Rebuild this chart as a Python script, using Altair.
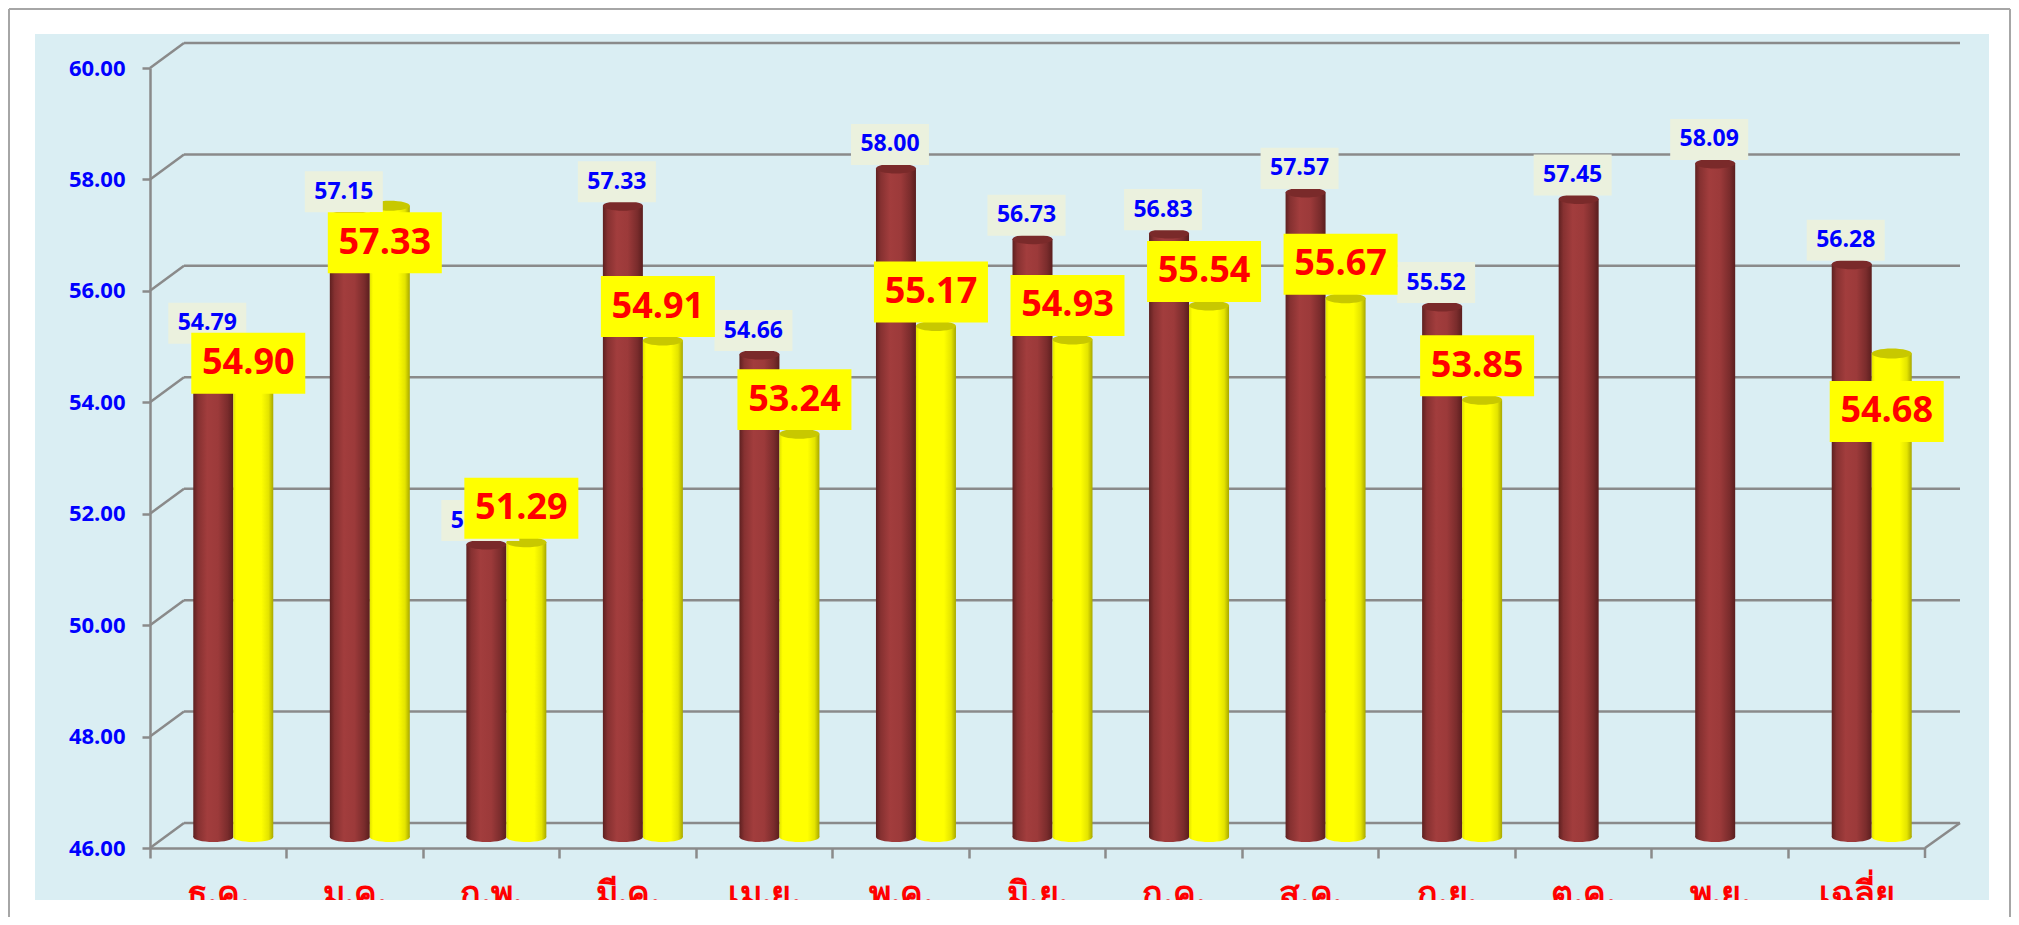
import altair as alt
import pandas as pd

# ---------------- data ----------------
categories = ["ธ.ค.", "ม.ค.", "ก.พ.", "มี.ค.", "เม.ย.", "พ.ค.", "มิ.ย.",
              "ก.ค.", "ส.ค.", "ก.ย.", "ต.ค.", "พ.ย.", "เฉลี่ย"]
series_prev = [54.79, 57.15, 51.25, 57.33, 54.66, 58.00, 56.73,
               56.83, 57.57, 55.52, 57.45, 58.09, 56.28]
series_curr = [54.90, 57.33, 51.29, 54.91, 53.24, 55.17, 54.93,
               55.54, 55.67, 53.85, None, None, 54.68]
y_ticks = [46, 48, 50, 52, 54, 56, 58, 60]

# layout only: vertical nudge (px) of each red label box relative to the cylinder top
red_label_nudge = [22, 37, -34, -34, -34, -34, -34, -34, -34, -34, 0, 0, 58]

# ---------------- tables ----------------
df_a = pd.DataFrame({"cat": categories, "val": series_prev})
df_b = pd.DataFrame({"cat": categories, "val": series_curr,
                     "shift": [-11 + n for n in red_label_nudge]}).dropna()
df_t = pd.DataFrame({"t": y_ticks})
one = pd.DataFrame({"d": [0]})

W, H = 1775, 780
GRID = "#8a8a8a"
FONT = "Open Sans"

Y_SCALE = alt.Scale(domain=[46, 60], nice=False, zero=False)
X_SCALE = alt.Scale(domain=categories, paddingInner=0, paddingOuter=0)

yaxis = alt.Axis(values=y_ticks, format=".2f", title=None, grid=False,
                 labelColor="#0000ff", labelFontSize=22, labelFont=FONT,
                 labelFontWeight="bold", labelPadding=17,
                 domainColor=GRID, domainWidth=2.5, tickColor=GRID, tickWidth=2.5,
                 tickSize=8, zindex=1)
xaxis = alt.Axis(labels=False, title=None, grid=False, domainColor=GRID,
                 domainWidth=2.5, tickColor=GRID, tickWidth=2.5, tickSize=10,
                 bandPosition=0, zindex=1)


def X():
    return alt.X("cat:N", scale=X_SCALE, axis=xaxis, title=None)


def Y(f):
    return alt.Y(f, scale=Y_SCALE, axis=yaxis, title=None)


def grad(stops):
    return alt.LinearGradient(
        gradient="linear", x1=0, x2=1, y1=0, y2=0,
        stops=[alt.GradientStop(color=c, offset=o) for o, c in stops])


brown_grad = grad([(0, "#5e2020"), (0.12, "#863131"), (0.35, "#a23d3d"),
                   (0.62, "#9c3a3a"), (0.86, "#7a2c2c"), (1, "#5a1e1e")])
yellow_grad = grad([(0, "#e2e200"), (0.08, "#ffff00"), (0.7, "#ffff00"),
                    (0.88, "#e4e400"), (1, "#a8a800")])

k = 0.5523
e = 0.25
ke = round(k * e, 4)
ELLIPSE = (f"M-1,0 C-1,-{ke} -{k},-{e} 0,-{e} C{k},-{e} 1,-{ke} 1,0 "
           f"C1,{ke} {k},{e} 0,{e} C-{k},{e} -1,{ke} -1,0 Z")
BLUE_BOX = "M-1,-0.526 L1,-0.526 L1,0.526 L-1,0.526 Z"
RED_BOX = "M-1,-0.535 L1,-0.535 L1,0.535 L-1,0.535 Z"

BW = 40
DX_A, DX_B = -5, 35

# ---------------- decoration ----------------
bg = alt.Chart(one).mark_rect(color="#daeef3").encode(
    x=alt.value(-115), x2=alt.value(1839), y=alt.value(-34), y2=alt.value(832))

back_grid = alt.Chart(df_t).mark_rule(color=GRID, strokeWidth=2.5, yOffset=-25).encode(
    y=Y("t:Q"), x=alt.value(34), x2=alt.value(1810))
diag = alt.Chart(df_t).mark_rule(color=GRID, strokeWidth=2.5, y2Offset=-25).encode(
    y=Y("t:Q"), y2="t:Q", x=alt.value(0), x2=alt.value(34))
floor_right = alt.Chart(one).mark_rule(color=GRID, strokeWidth=2.5).encode(
    x=alt.value(1775), x2=alt.value(1810), y=alt.value(780), y2=alt.value(755))
last_tick = alt.Chart(one).mark_rule(color=GRID, strokeWidth=2.5).encode(
    x=alt.value(1775), y=alt.value(780), y2=alt.value(790))

# ---------------- cylinders ----------------
def cylinders(df, dx, g, cap):
    bottom = alt.Chart(df).mark_point(
        shape=ELLIPSE, size=BW * BW, filled=True, opacity=1, strokeWidth=0,
        color=g, xOffset=dx, yOffset=-11).encode(x=X(), y=alt.datum(46))
    body = alt.Chart(df).mark_bar(
        width=BW, color=g, xOffset=dx, yOffset=-11, y2Offset=-11).encode(
        x=X(), y=Y("val:Q"), y2=alt.datum(46))
    top = alt.Chart(df).mark_point(
        shape=ELLIPSE, size=BW * BW, filled=True, opacity=1, strokeWidth=0,
        color=cap, xOffset=dx, yOffset=-11).encode(x=X(), y=Y("val:Q"))
    return [bottom, body, top]


layers_a = cylinders(df_a, DX_A, brown_grad, "#7a2a2a")
layers_b = cylinders(df_b, DX_B, yellow_grad, "#c8c800")

# ---------------- value labels ----------------
blue_box = alt.Chart(df_a).mark_point(
    shape=BLUE_BOX, size=78 * 78, filled=True, opacity=1, strokeWidth=0,
    color="#ebf1de", xOffset=DX_A - 6, yOffset=-35).encode(x=X(), y=Y("val:Q"))
blue_txt = alt.Chart(df_a).mark_text(
    color="#0000ff", fontSize=23, fontWeight="bold", font=FONT,
    baseline="middle", align="center", xOffset=DX_A - 6, yOffset=-35).encode(
    x=X(), y=Y("val:Q"), text=alt.Text("val:Q", format=".2f"))

red_layers = []
for s in sorted(df_b["shift"].unique()):
    sub = df_b[df_b["shift"] == s]
    red_layers.append(alt.Chart(sub).mark_point(
        shape=RED_BOX, size=114 * 114, filled=True, opacity=1, strokeWidth=0,
        color="#ffff00", xOffset=DX_B - 5, yOffset=float(s)).encode(
        x=X(), y=Y("val:Q")))
    red_layers.append(alt.Chart(sub).mark_text(
        color="#ff0000", fontSize=36, fontWeight="bold", font=FONT,
        baseline="middle", align="center", xOffset=DX_B - 5,
        yOffset=float(s)).encode(
        x=X(), y=Y("val:Q"), text=alt.Text("val:Q", format=".2f")))

# ---------------- category labels ----------------
cat_lbl = alt.Chart(df_a).mark_text(
    color="#ff0000", fontSize=34, fontWeight="bold", font=FONT,
    baseline="alphabetic", align="center").encode(
    x=X(), y=alt.value(837), text="cat:N")

cover = alt.Chart(one).mark_rect(color="white").encode(
    x=alt.value(-140), x2=alt.value(1859), y=alt.value(832), y2=alt.value(860))

FRAME = "#a6a6a6"
frame_top = alt.Chart(one).mark_rule(color=FRAME, strokeWidth=2).encode(
    x=alt.value(-141), x2=alt.value(1860), y=alt.value(-59))
frame_left = alt.Chart(one).mark_rule(color=FRAME, strokeWidth=2).encode(
    x=alt.value(-141), y=alt.value(-59), y2=alt.value(860))
frame_right = alt.Chart(one).mark_rule(color=FRAME, strokeWidth=2).encode(
    x=alt.value(1860), y=alt.value(-59), y2=alt.value(860))

chart = alt.layer(
    bg, back_grid, diag, floor_right, last_tick,
    *layers_a, *layers_b,
    blue_box, blue_txt, *red_layers,
    cat_lbl, cover, frame_top, frame_left, frame_right,
).properties(
    width=W, height=H,
    autosize=alt.AutoSizeParams(type="none"),
    padding={"left": 142, "top": 60, "right": 86, "bottom": 69},
    background="white",
).configure_view(strokeWidth=0)

chart.save("out.html", embed_options={"renderer": "svg", "actions": False})
